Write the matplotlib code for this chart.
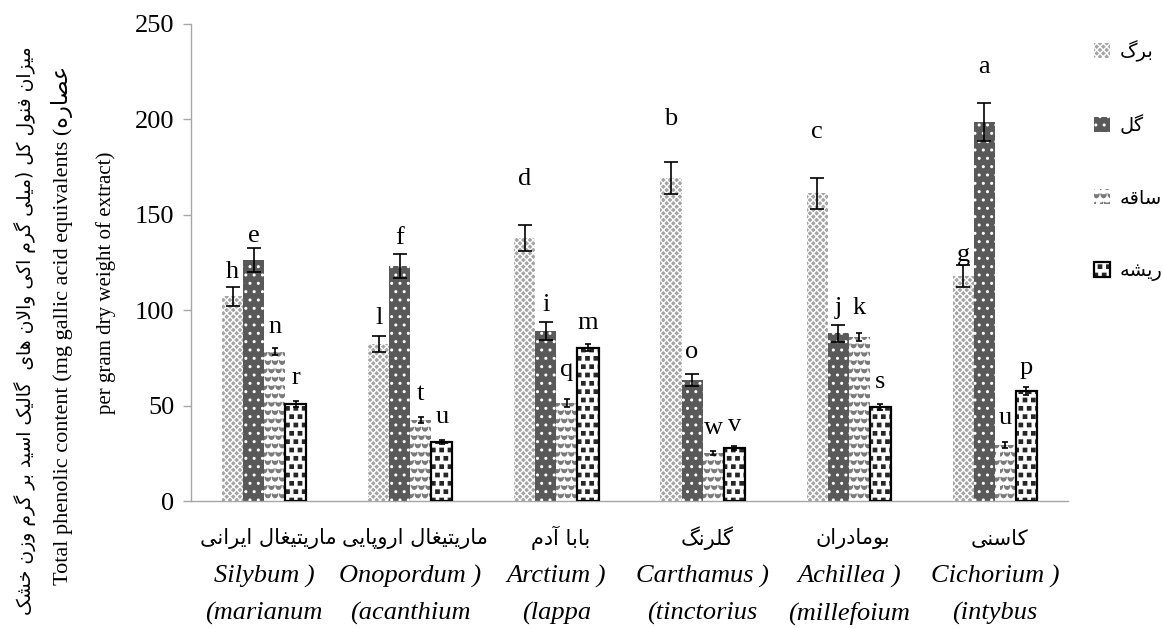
import numpy as np
import matplotlib
matplotlib.use("Agg")
import matplotlib.pyplot as plt
from matplotlib.patches import Patch
from matplotlib.legend_handler import HandlerTuple
from matplotlib import hatch as mhatch
from matplotlib.path import Path

# ---------------- data ----------------
cat_fa = ["ماریتیغال ایرانی", "ماریتیغال اروپایی", "بابا آدم", "گلرنگ", "بومادران", "کاسنی"]
cat_genus = ["Silybum )", "Onopordum )", "Arctium )", "Carthamus )", "Achillea )", "Cichorium )"]
cat_species = ["(marianum", "(acanthium", "(lappa", "(tinctorius", "(millefoium", "(intybus"]
series_names = ["برگ", "گل", "ساقه", "ریشه"]

leaf = [107.4, 82.3, 137.7, 169.5, 161.2, 118.1]
flower = [126.3, 123.2, 89.1, 63.4, 87.9, 198.8]
stem = [78.3, 42.5, 51.2, 25.0, 86.1, 29.3]
root = [50.8, 30.8, 80.4, 27.6, 49.4, 57.8]

leaf_err = [5.0, 4.2, 6.8, 8.4, 8.0, 5.7]
flower_err = [6.4, 6.1, 4.5, 3.0, 4.5, 9.9]
stem_err = [2.0, 1.5, 2.0, 1.0, 2.0, 1.5]
root_err = [1.5, 1.0, 2.0, 1.0, 1.5, 2.0]

leaf_letters = ["h", "l", "d", "b", "c", "g"]
flower_letters = ["e", "f", "i", "o", "j", "a"]
stem_letters = ["n", "t", "q", "w", "k", "u"]
root_letters = ["r", "u", "m", "v", "s", "p"]

# letter centre heights (data units)
leaf_letter_y = [120, 96, 169, 200, 193.6, 129]
flower_letter_y = [139, 138, 102.7, 78.3, 101, 227.5]
stem_letter_y = [91, 56, 68.7, 38, 101, 43.5]
root_letter_y = [64.5, 44, 93.5, 40, 62.5, 69.7]

yticks = [0, 50, 100, 150, 200, 250]


# ---------------- custom hatch patterns ----------------
class Waves(mhatch.HatchPatternBase):
    """Rows of small U-shaped arcs, triggered by 'O'."""
    npts = 7

    def __init__(self, hatch, density):
        self.num_rows = hatch.count('O') * density
        self.num_cols = int(round(self.num_rows * 1.2))
        self.num_vertices = self.num_rows * self.num_cols * self.npts if self.num_rows else 0

    def set_vertices_and_codes(self, vertices, codes):
        t = np.linspace(np.pi, 2 * np.pi, self.npts)
        dx = 1.0 / self.num_cols
        dy = 1.0 / self.num_rows
        arc = np.column_stack([np.cos(t) * 0.36 * dx, np.sin(t) * 0.42 * dy])
        k = 0
        for r in range(self.num_rows):
            for c in range(self.num_cols):
                cx = (c + 0.5 + 0.5 * (r % 2)) * dx
                cy = (r + 0.7) * dy
                vertices[k:k + self.npts] = arc + [cx % 1.0, cy]
                codes[k] = Path.MOVETO
                codes[k + 1:k + self.npts] = Path.LINETO
                k += self.npts


class Squares(mhatch.Shapes):
    """Staggered filled squares, triggered by '*'."""
    size = 0.2
    filled = True

    def __init__(self, hatch, density):
        self.num_rows = hatch.count('*') * density
        self.shape_vertices = np.array([[-1, -1], [1, -1], [1, 1], [-1, 1], [-1, -1]], float)
        self.shape_codes = np.array([Path.MOVETO, Path.LINETO, Path.LINETO, Path.LINETO,
                                     Path.CLOSEPOLY], dtype=Path.code_type)
        super().__init__(hatch, density)


mhatch._hatch_types = [h for h in mhatch._hatch_types
                       if h not in (mhatch.LargeCircles, mhatch.Stars)] + [Waves, Squares]

# ---------------- Persian shaping helpers ----------------
FORMS = {
    '\u0627': ('\uFE8D', '\uFE8E', None, None),
    '\u0622': ('\uFE81', '\uFE82', None, None),
    '\u0628': ('\uFE8F', '\uFE90', '\uFE91', '\uFE92'),
    '\u067E': ('\uFB56', '\uFB57', '\uFB58', '\uFB59'),
    '\u062A': ('\uFE95', '\uFE96', '\uFE97', '\uFE98'),
    '\u062E': ('\uFEA5', '\uFEA6', '\uFEA7', '\uFEA8'),
    '\u062F': ('\uFEA9', '\uFEAA', None, None),
    '\u0631': ('\uFEAD', '\uFEAE', None, None),
    '\u0632': ('\uFEAF', '\uFEB0', None, None),
    '\u0633': ('\uFEB1', '\uFEB2', '\uFEB3', '\uFEB4'),
    '\u0634': ('\uFEB5', '\uFEB6', '\uFEB7', '\uFEB8'),
    '\u0635': ('\uFEB9', '\uFEBA', '\uFEBB', '\uFEBC'),
    '\u0639': ('\uFEC9', '\uFECA', '\uFECB', '\uFECC'),
    '\u063A': ('\uFECD', '\uFECE', '\uFECF', '\uFED0'),
    '\u0641': ('\uFED1', '\uFED2', '\uFED3', '\uFED4'),
    '\u0642': ('\uFED5', '\uFED6', '\uFED7', '\uFED8'),
    '\u06A9': ('\uFB8E', '\uFB8F', '\uFB90', '\uFB91'),
    '\u06AF': ('\uFB92', '\uFB93', '\uFB94', '\uFB95'),
    '\u0644': ('\uFEDD', '\uFEDE', '\uFEDF', '\uFEE0'),
    '\u0645': ('\uFEE1', '\uFEE2', '\uFEE3', '\uFEE4'),
    '\u0646': ('\uFEE5', '\uFEE6', '\uFEE7', '\uFEE8'),
    '\u0647': ('\uFEE9', '\uFEEA', '\uFEEB', '\uFEEC'),
    '\u0648': ('\uFEED', '\uFEEE', None, None),
    '\u06CC': ('\uFBFC', '\uFBFD', '\uFBFE', '\uFBFF'),
    '\u064A': ('\uFEF1', '\uFEF2', '\uFEF3', '\uFEF4'),
}


def _dual(c):
    return c in FORMS and FORMS[c][2] is not None


def shape(s):
    out = []
    n = len(s)
    i = 0
    while i < n:
        c = s[i]
        if c not in FORMS:
            out.append(c)
            i += 1
            continue
        join_prev = i > 0 and _dual(s[i - 1])
        if c == '\u0644' and i + 1 < n and s[i + 1] in ('\u0627', '\u0622'):
            iso, fin = ('\uFEFB', '\uFEFC') if s[i + 1] == '\u0627' else ('\uFEF5', '\uFEF6')
            out.append(fin if join_prev else iso)
            i += 2
            continue
        join_next = _dual(c) and i + 1 < n and s[i + 1] in FORMS
        iso, fin, ini, med = FORMS[c]
        if join_prev and join_next:
            out.append(med)
        elif join_prev:
            out.append(fin)
        elif join_next:
            out.append(ini)
        else:
            out.append(iso)
        i += 1
    return ''.join(out)


MIRROR = {'(': ')', ')': '('}


def vis(s):
    return ''.join(MIRROR.get(c, c) for c in reversed(shape(s)))


# ---------------- figure ----------------
W, H = 1163, 628
fig = plt.figure(figsize=(W / 100, H / 100), dpi=100)
ax = fig.add_axes([191 / W, 1 - 501 / H, 877 / W, 477 / H])

SERIF = ['Liberation Serif', 'DejaVu Serif']
FA = ['DejaVu Sans']

x = np.arange(len(cat_fa))
bw = 0.144
offsets = np.array([-1.5, -0.5, 0.5, 1.5]) * bw

styles = [
    dict(face='#a4a4a4', hatch='xxxxx', hcolor='#ffffff', edge='none', lw=0, cap=5),
    dict(face='#595959', hatch='..', hcolor='#ffffff', edge='none', lw=0, cap=5),
    dict(face='#ffffff', hatch='OO', hcolor='#7a7a7a', edge='none', lw=0, cap=2),
    dict(face='#ffffff', hatch='**', hcolor='#262626', edge='#000000', lw=1.6, cap=2),
]
values = [leaf, flower, stem, root]
errs = [leaf_err, flower_err, stem_err, root_err]
letters = [leaf_letters, flower_letters, stem_letters, root_letters]
letter_ys = [leaf_letter_y, flower_letter_y, stem_letter_y, root_letter_y]

plt.rcParams['hatch.linewidth'] = 1.0
handles = []
for k in range(4):
    st = styles[k]
    xs = x + offsets[k]
    ax.bar(xs, values[k], width=bw, color=st['face'], edgecolor='none', linewidth=0, zorder=2)
    ax.bar(xs, values[k], width=bw, facecolor='none', edgecolor=st['hcolor'],
           hatch=st['hatch'], linewidth=0, zorder=3)
    if st['lw'] > 0:
        ax.bar(xs, values[k], width=bw, facecolor='none', edgecolor=st['edge'],
               linewidth=st['lw'], zorder=4)
    ax.errorbar(xs, values[k], yerr=errs[k], fmt='none', ecolor='black',
                elinewidth=1.2, capsize=st['cap'], capthick=1.2, zorder=5)
    for xi, lab, ly in zip(xs, letters[k], letter_ys[k]):
        ax.text(xi, ly, lab, ha='center', va='center', fontsize=19,
                family=SERIF, zorder=6)
    h1 = Patch(facecolor=st['face'], edgecolor='none', linewidth=0)
    h2 = Patch(facecolor='none', edgecolor=st['hcolor'], hatch=st['hatch'], linewidth=0)
    if st['lw'] > 0:
        h3 = Patch(facecolor='none', edgecolor=st['edge'], linewidth=st['lw'])
        handles.append((h1, h2, h3))
    else:
        handles.append((h1, h2))

ax.set_xlim(-0.5, len(cat_fa) - 0.5)
ax.set_ylim(0, 250)
ax.set_yticks(yticks)
ax.set_yticklabels([str(t) for t in yticks], fontsize=19, family=SERIF)
ax.set_xticks([])
for s in ['top', 'right']:
    ax.spines[s].set_visible(False)
for s in ['left', 'bottom']:
    ax.spines[s].set_color('#a6a6a6')
    ax.spines[s].set_linewidth(1.0)
ax.tick_params(axis='y', colors='#a6a6a6', length=6, width=1.0, labelcolor='black', pad=6)

# category labels
tr = ax.get_xaxis_transform()
for xi, fa, g, sp in zip(x, cat_fa, cat_genus, cat_species):
    ax.text(xi + 0.03, -0.078, vis(fa), transform=tr, ha='center', va='center',
            fontsize=15, family=FA)
    ax.text(xi, -0.159, g, transform=tr, ha='center', va='center',
            fontsize=19, family=SERIF, style='italic')
    ax.text(xi, -0.235, sp, transform=tr, ha='center', va='center',
            fontsize=19, family=SERIF, style='italic')

# y-axis title (three rotated lines)
y1 = "میزان فنول کل (میلی گرم اکی والان های  گالیک اسید بر گرم وزن خشک"
y2 = "Total phenolic content (mg gallic acid equivalents " + vis("عصاره)")
y3 = "per gram dry weight of extract)"
fig.text(25 / W, 1 - 331 / H, vis(y1), rotation=90, ha='center', va='center',
         fontsize=13.5, family=['DejaVu Sans'])
fig.text(62 / W, 1 - 325 / H, y2, rotation=90, ha='center', va='center',
         fontsize=16, family=['Liberation Serif', 'DejaVu Sans'])
fig.text(106 / W, 1 - 283 / H, y3, rotation=90, ha='center', va='center',
         fontsize=15, family=SERIF)

# legend
fig.legend(handles, [vis(n) for n in series_names],
           handler_map={tuple: HandlerTuple(ndivide=1)},
           loc='upper left', bbox_to_anchor=(1094 / W, 1 - 40 / H),
           frameon=False, prop={'family': 'DejaVu Sans', 'size': 14},
           handlelength=0.8, handleheight=0.8, handletextpad=0.5,
           labelspacing=2.75, borderaxespad=0, borderpad=0)

fig.savefig('out.png', dpi=100)
